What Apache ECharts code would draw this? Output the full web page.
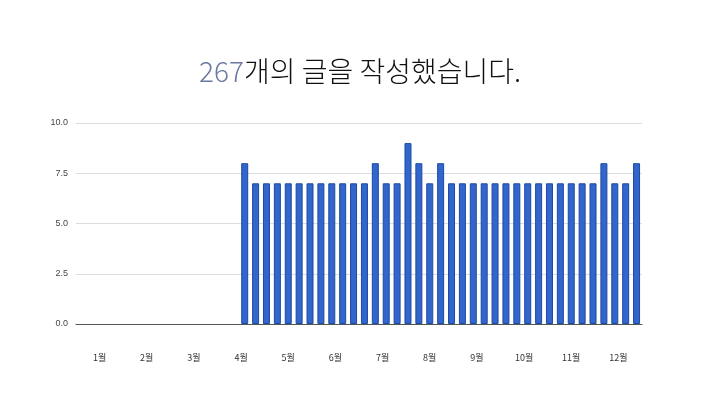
<!DOCTYPE html>
<html>
<head>
<meta charset="utf-8">
<script src="https://cdn.jsdelivr.net/npm/echarts@6/dist/echarts.min.js"></script>
<style>html,body{margin:0;padding:0;background:#fff;}#c{width:720px;height:394px;}</style>
</head>
<body>
<div id="c"></div>
<script>
const totalPosts = 267;
const titleRest = '개의 글을 작성했습니다.';
const monthLabels = ['1월','2월','3월','4월','5월','6월','7월','8월','9월','10월','11월','12월'];
const weeks = Array.from({length: 52}, (_, i) => 'W' + (i + 1));
const weeklyPosts = [
  0,0,0,0,0,0,0,0,0,0,0,0,0,0,0,
  8,7,7,7,7,7,7,7,7,7,7,7,8,7,7,9,8,7,8,
  7,7,7,7,7,7,7,7,7,7,7,7,7,7,8,7,7,8
];
const yTicks = [0, 2.5, 5, 7.5, 10];

const barData = weeklyPosts.map(v => v === 0 ? {value: v, itemStyle: {borderWidth: 0, opacity: 0}} : v);

const chart = echarts.init(document.getElementById('c'), null, {renderer: 'canvas'});
chart.setOption({
  animation: false,
  backgroundColor: '#ffffff',
  title: {
    text: '{n|' + totalPosts + '}{t|' + titleRest + '}',
    left: 'center',
    top: 52,
    textStyle: {
      rich: {
        n: {fontFamily: '"Noto Sans CJK KR", "Noto Sans", sans-serif', fontSize: 28, fontWeight: 300, color: '#6b7aa1'},
        t: {fontFamily: '"Noto Sans CJK KR", "Noto Sans", sans-serif', fontSize: 28, fontWeight: 300, color: '#111111'}
      }
    }
  },
  grid: {left: 76, right: 78, top: 123, bottom: 70, containLabel: false},
  xAxis: [
    {
      type: 'category',
      data: weeks,
      boundaryGap: true,
      z: 5,
      axisLine: {show: true, lineStyle: {color: '#555555', width: 1}},
      axisTick: {show: false},
      axisLabel: {show: false},
      splitLine: {show: false}
    },
    {
      type: 'category',
      data: monthLabels,
      position: 'bottom',
      boundaryGap: true,
      axisLine: {show: false},
      axisTick: {show: false},
      axisLabel: {show: true, margin: 29, color: '#333333', fontSize: 9, fontFamily: '"Noto Sans CJK KR", sans-serif'},
      splitLine: {show: false}
    }
  ],
  yAxis: {
    type: 'value',
    min: yTicks[0],
    max: yTicks[yTicks.length - 1],
    interval: 2.5,
    axisLine: {show: false},
    axisTick: {show: false},
    axisLabel: {color: '#444444', fontSize: 9, margin: 8, fontFamily: 'Arial, "Liberation Sans", sans-serif',
      formatter: v => v.toFixed(1)},
    splitLine: {lineStyle: {color: '#dddddd', width: 1}}
  },
  series: [{
    type: 'bar',
    xAxisIndex: 0,
    data: barData,
    barWidth: 7,
    itemStyle: {color: '#3366cc', borderColor: '#1c4aa0', borderWidth: 1}
  }]
});
</script>
</body>
</html>
